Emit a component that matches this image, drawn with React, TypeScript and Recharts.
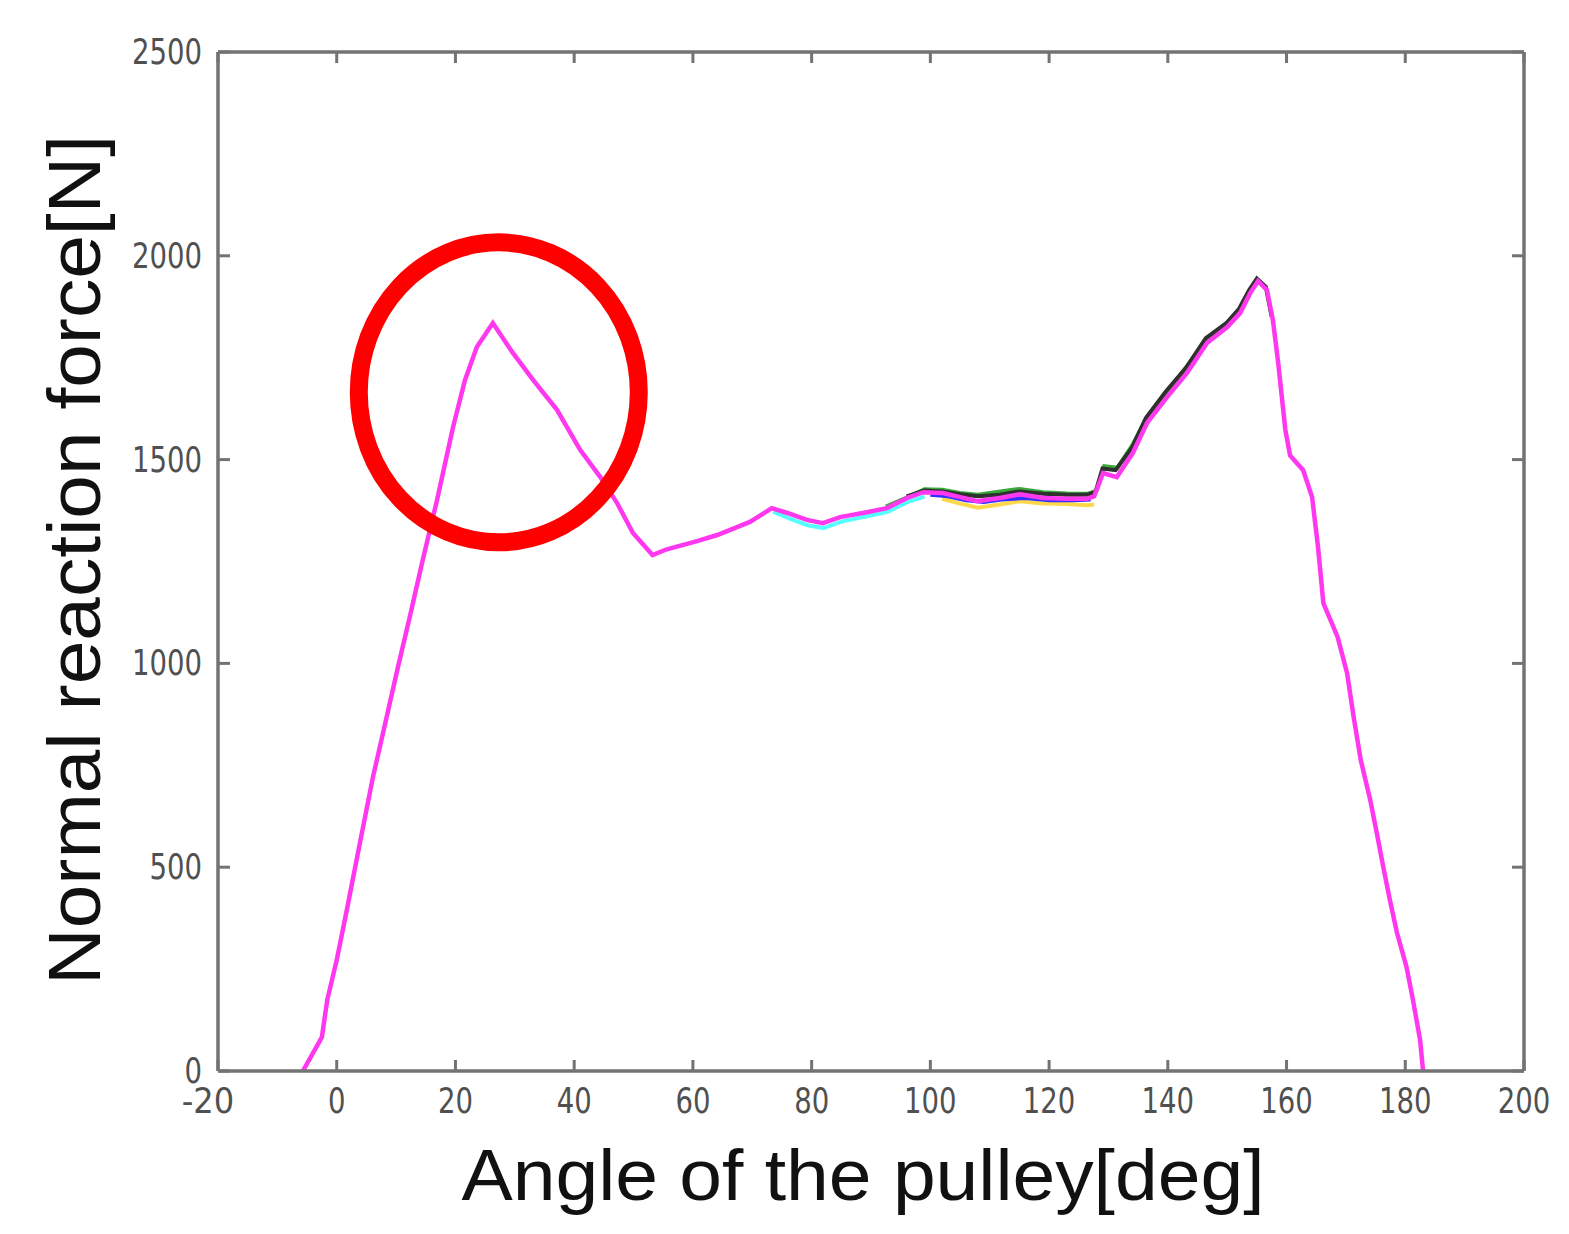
import React from 'react';
import { LineChart, Line, XAxis, YAxis, ReferenceDot, Label } from 'recharts';

// pulley angle [deg] vs normal reaction force [N], main (magenta) trace
const angle = [
  -5.7, -2.5, -1.6, 0.0, 1.7, 3.9, 6.1, 7.8, 10.2, 12.3, 14.5, 16.9, 19.6, 21.6, 23.6, 26.3,
  29.7, 33.1, 37.1, 41.0, 44.4, 47.2, 49.9, 53.2, 55.6, 60.7, 64.1, 69.6, 73.3, 75.9, 79.2,
  81.9, 84.8, 89.3, 92.7, 96.1, 98.8, 102.1, 105.0, 107.9, 111.7, 115.1, 119.0, 123.0, 126.4,
  127.6, 129.1, 131.4, 134.1, 136.5, 139.9, 143.2, 146.6, 150.0, 152.2, 153.9, 155.2, 156.7,
  157.7, 158.6, 159.2, 159.8, 160.6, 162.8, 164.3, 165.3, 166.2, 168.6, 170.2, 171.3, 172.5,
  174.1, 175.2, 176.3, 177.4, 178.6, 180.2, 181.3, 182.5, 183.0,
];
const forceMain = [
  0, 83, 174, 272, 395, 559, 721, 829, 984, 1114, 1254, 1401, 1580, 1695, 1776, 1835,
  1761, 1695, 1622, 1524, 1457, 1394, 1320, 1266, 1280, 1300, 1315, 1347, 1381, 1369, 1352,
  1344, 1359, 1371, 1381, 1406, 1420, 1418, 1408, 1398, 1406, 1415, 1406, 1404, 1404,
  1410, 1467, 1457, 1516, 1590, 1654, 1712, 1786, 1825, 1860, 1909, 1938, 1916,
  1842, 1737, 1654, 1573, 1510, 1474, 1408, 1286, 1148, 1065, 976, 869, 763,
  665, 584, 500, 420, 339, 256, 174, 76, 0,
];

// other runs, only where they visibly part from the main trace
const angleDark = [96, 99, 102, 105, 108, 111.7, 115, 119, 123, 126.4, 127.8, 129, 131.2, 134, 136.3, 139.6, 143, 146.4, 149.8, 152, 153.7, 155, 156.5, 157.5];
const forceDark = [1410, 1424, 1422, 1415, 1410, 1414, 1422, 1416, 1414, 1414, 1420, 1478, 1474, 1530, 1602, 1666, 1724, 1798, 1834, 1870, 1916, 1944, 1924, 1850];

const angleGreen = [92.5, 96.5, 99, 102, 105, 108, 111.5, 115, 119, 123, 126.5, 128, 129.3, 131.5, 134, 136.6, 140, 143.3, 146.7, 150, 152.2, 154];
const forceGreen = [1385, 1410, 1427, 1426, 1418, 1414, 1421, 1428, 1420, 1417, 1416, 1424, 1484, 1480, 1535, 1607, 1670, 1730, 1798, 1836, 1868, 1914];

const angleBlue = [100, 103, 106, 109, 112, 116, 120, 124, 127];
const forceBlue = [1414, 1410, 1400, 1396, 1402, 1406, 1400, 1400, 1402];

const angleCyan = [73.5, 76, 79.3, 82, 85, 89.3, 92.8, 96.3, 99];
const forceCyan = [1372, 1357, 1339, 1332, 1348, 1361, 1372, 1397, 1409];

const angleYellow = [102, 105, 108, 111.7, 115, 119, 123, 126.4, 127.6];
const forceYellow = [1404, 1392, 1382, 1390, 1398, 1392, 1391, 1388, 1390];

const xTicks = [-20, 0, 20, 40, 60, 80, 100, 120, 140, 160, 180, 200];
const yTicks = [0, 500, 1000, 1500, 2000, 2500];

const toRows = (xs: number[], ys: number[]) => xs.map((a, i) => ({ angle: a, force: ys[i] }));

const mainData = toRows(angle, forceMain);
const others = [
  { data: toRows(angleCyan, forceCyan), color: '#55ffff' },
  { data: toRows(angleYellow, forceYellow), color: '#ffd84a' },
  { data: toRows(angleGreen, forceGreen), color: '#3aa83a' },
  { data: toRows(angleDark, forceDark), color: '#303030' },
  { data: toRows(angleBlue, forceBlue), color: '#3030ff' },
];

const AXIS = '#737373';
const TICK_FONT = "'DejaVu Sans Condensed', 'DejaVu Sans', sans-serif";
const tickWidth = (v: number) => String(v).length * 17.5;

const BottomTick = ({ x, y, payload }: any) => (
  <g>
    <line x1={x} y1={y} x2={x} y2={y - 11} stroke={AXIS} strokeWidth={3} />
    <text
      x={x - (payload.value < 0 ? 10 : 0)}
      y={y + 42}
      textAnchor="middle"
      fontSize={36}
      textLength={tickWidth(payload.value)}
      lengthAdjust="spacingAndGlyphs"
      fill="#505050"
      fontFamily={TICK_FONT}
    >
      {payload.value}
    </text>
  </g>
);

const TopTick = ({ x, y }: any) => (
  <line x1={x} y1={y} x2={x} y2={y + 11} stroke={AXIS} strokeWidth={3} />
);

const LeftTick = ({ x, y, payload }: any) => (
  <g>
    <line x1={x} y1={y} x2={x + 12} y2={y} stroke={AXIS} strokeWidth={3} />
    <text
      x={x - 16}
      y={y + 12}
      textAnchor="end"
      fontSize={36}
      textLength={tickWidth(payload.value)}
      lengthAdjust="spacingAndGlyphs"
      fill="#505050"
      fontFamily={TICK_FONT}
    >
      {payload.value}
    </text>
  </g>
);

const RightTick = ({ x, y }: any) => (
  <line x1={x} y1={y} x2={x - 12} y2={y} stroke={AXIS} strokeWidth={3} />
);

const Highlight = ({ cx, cy }: any) => (
  <ellipse cx={cx} cy={cy} rx={140} ry={150} fill="none" stroke="#ff0000" strokeWidth={18} />
);

export default function App() {
  return (
    <div style={{ position: 'absolute', left: 0, top: 0, width: 1569, height: 1234, background: '#fff' }}>
      <LineChart width={1569} height={1234} margin={{ top: 51, right: 44, bottom: 162, left: 217 }}>
        <XAxis
          xAxisId="bottom"
          type="number"
          dataKey="angle"
          domain={[-20, 200]}
          ticks={xTicks}
          interval={0}
          allowDataOverflow
          height={1}
          tickSize={0}
          tickMargin={0}
          axisLine={{ stroke: AXIS, strokeWidth: 3.5 }}
          tickLine={false}
          tick={(p: any) => <BottomTick {...p} />}
        >
          <Label
            content={() => (
              <text
                x={863}
                y={1200}
                textAnchor="middle"
                fontSize={72}
                textLength={803}
                lengthAdjust="spacingAndGlyphs"
                fill="#111"
                fontFamily="'Liberation Sans', Arial, sans-serif"
              >
                Angle of the pulley[deg]
              </text>
            )}
          />
        </XAxis>
        <XAxis
          xAxisId="top"
          orientation="top"
          type="number"
          dataKey="angle"
          domain={[-20, 200]}
          ticks={xTicks}
          interval={0}
          allowDataOverflow
          height={1}
          tickSize={0}
          tickMargin={0}
          axisLine={{ stroke: AXIS, strokeWidth: 3.5 }}
          tickLine={false}
          tick={(p: any) => <TopTick {...p} />}
        />
        <YAxis
          yAxisId="left"
          type="number"
          domain={[0, 2500]}
          ticks={yTicks}
          interval={0}
          allowDataOverflow
          width={1}
          tickSize={0}
          tickMargin={0}
          axisLine={{ stroke: AXIS, strokeWidth: 3.5 }}
          tickLine={false}
          tick={(p: any) => <LeftTick {...p} />}
        >
          <Label
            content={() => (
              <text
                x={100}
                y={560}
                transform="rotate(-90, 100, 560)"
                textAnchor="middle"
                fontSize={74}
                textLength={850}
                lengthAdjust="spacingAndGlyphs"
                fill="#111"
                fontFamily="'Liberation Sans', Arial, sans-serif"
              >
                Normal reaction force[N]
              </text>
            )}
          />
        </YAxis>
        <YAxis
          yAxisId="right"
          orientation="right"
          type="number"
          domain={[0, 2500]}
          ticks={yTicks}
          interval={0}
          allowDataOverflow
          width={1}
          tickSize={0}
          tickMargin={0}
          axisLine={{ stroke: AXIS, strokeWidth: 3.5 }}
          tickLine={false}
          tick={(p: any) => <RightTick {...p} />}
        />

        {others.map((s, i) => (
          <Line
            key={`run-${i}`}
            xAxisId="bottom"
            yAxisId="left"
            data={s.data}
            dataKey="force"
            type="linear"
            stroke={s.color}
            strokeWidth={4}
            dot={false}
            isAnimationActive={false}
          />
        ))}
        <Line
          xAxisId="bottom"
          yAxisId="left"
          data={mainData}
          dataKey="force"
          type="linear"
          stroke="#ff38f0"
          strokeWidth={4.5}
          dot={false}
          isAnimationActive={false}
        />

        <ReferenceDot
          xAxisId="bottom"
          yAxisId="left"
          x={27.3}
          y={1665}
          r={140}
          shape={(p: any) => <Highlight {...p} />}
        />
      </LineChart>
    </div>
  );
}
